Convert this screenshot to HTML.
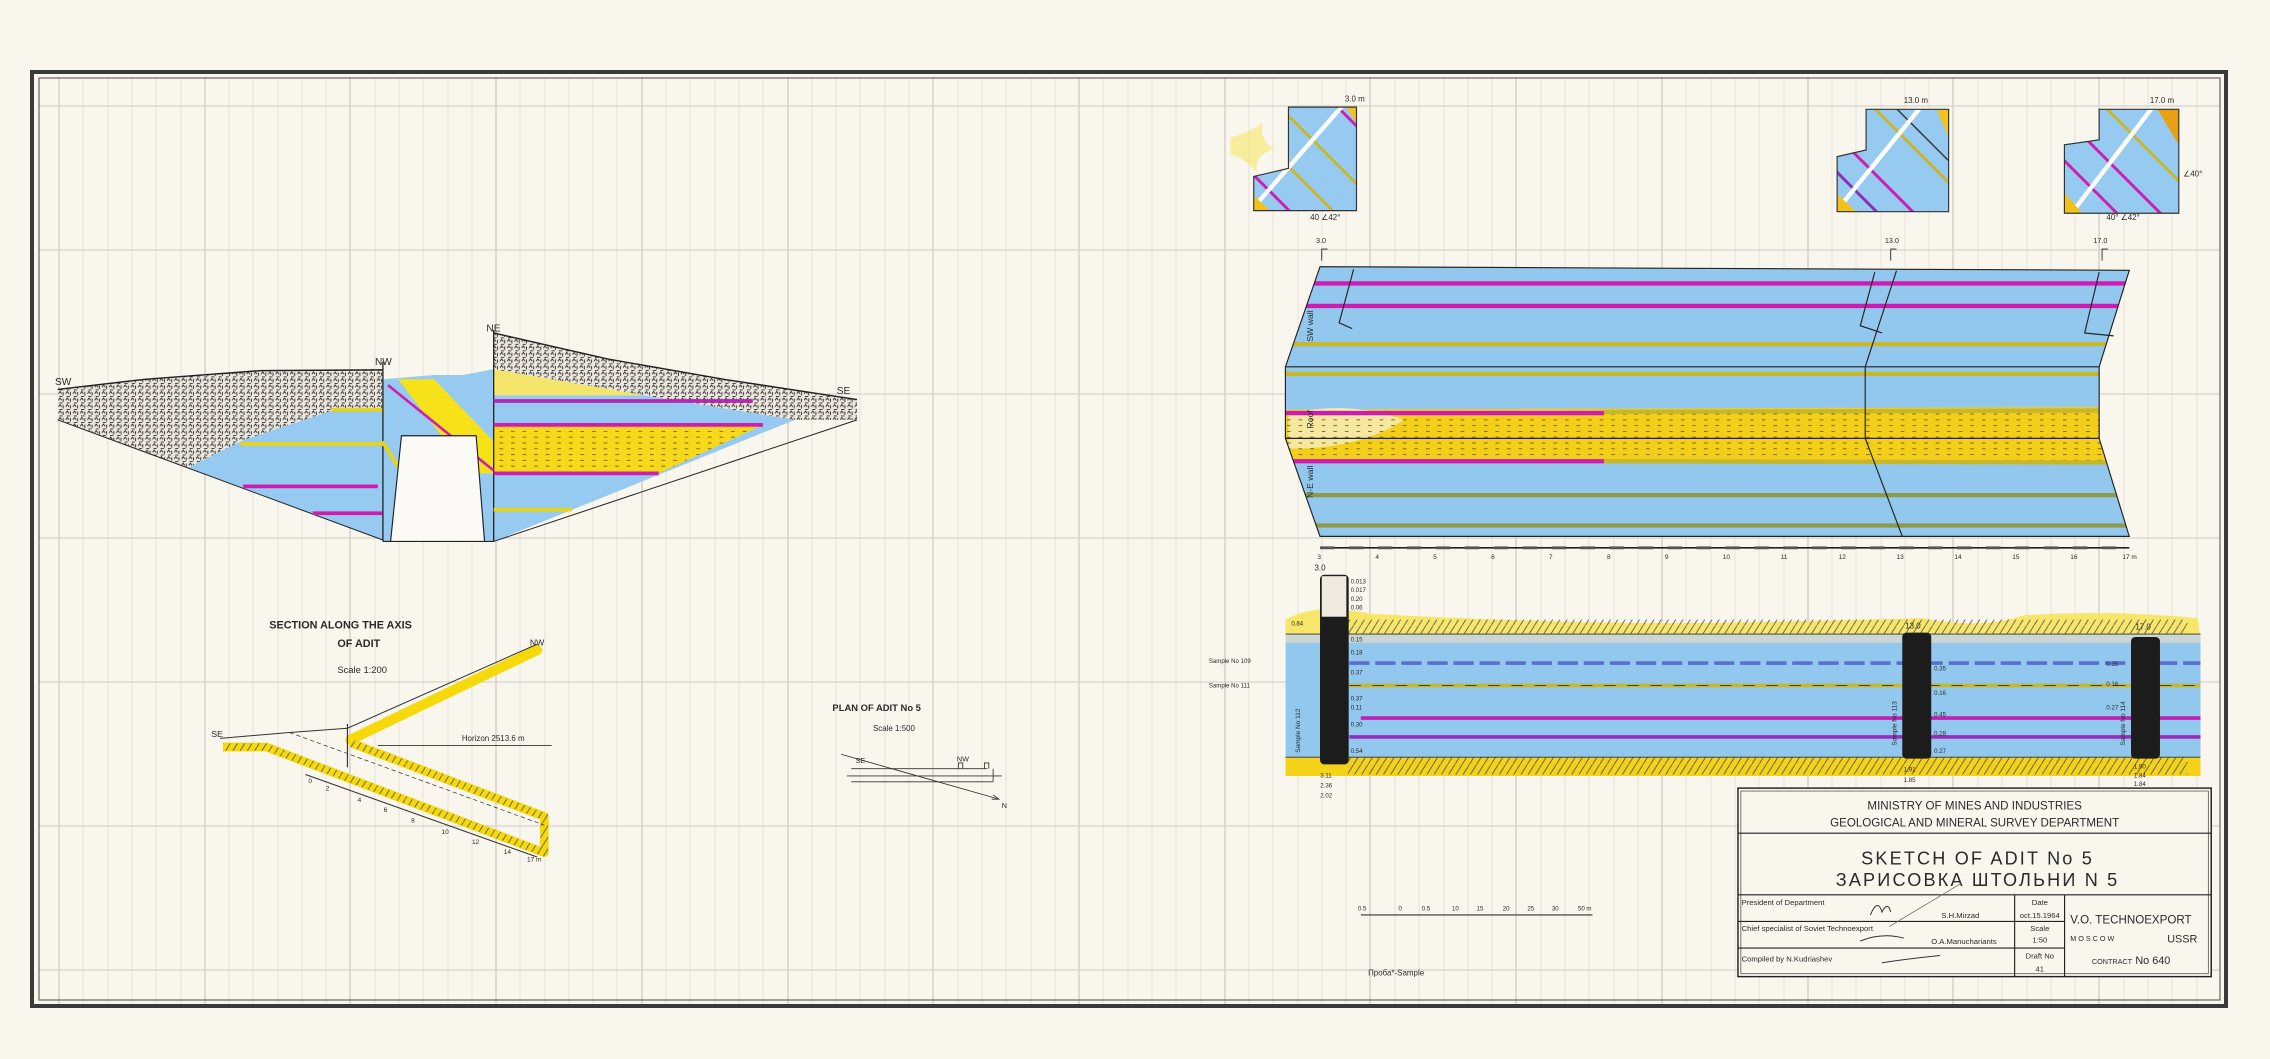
<!DOCTYPE html>
<html><head><meta charset="utf-8"><style>
html,body{margin:0;padding:0;background:#f9f6ee;}
svg{display:block;}
text{font-family:"Liberation Sans",sans-serif;fill:#2a2a2a;}
</style></head><body>
<svg width="2270" height="1059" viewBox="0 0 2270 1059" xmlns="http://www.w3.org/2000/svg">
<defs>
<pattern id="rock" width="5" height="4.5" patternUnits="userSpaceOnUse">
<rect width="5" height="4.5" fill="#ebe7de"/>
<path d="M0.4 2 l1.1 -1.6 l1.1 1.6 M3.6 0.8 v2.4 M1 3.8 h2.2" stroke="#222" stroke-width="0.6" fill="none"/>
</pattern>
<pattern id="hatch" width="5" height="8" patternUnits="userSpaceOnUse">
<path d="M0 8 L5 0" stroke="#555" stroke-width="0.6"/>
</pattern>
<pattern id="dots" width="8" height="4" patternUnits="userSpaceOnUse">
<path d="M1 2 h2.5" stroke="#6b5a00" stroke-width="0.6"/>
</pattern>
<clipPath id="b1"><polygon points="890,74 937,74 937,145.5 866,145.5 866,121.9 890,116.3"/></clipPath>
<clipPath id="b2"><polygon points="1289,75.5 1346,75.5 1346,146.2 1269,146.2 1269,108.2 1289,103.6"/></clipPath>
<clipPath id="b3"><polygon points="1450,75.5 1505,75.5 1505,147.3 1426,147.3 1426,100 1450,96.6"/></clipPath>
<clipPath id="main"><polygon points="911.8,184.2 1470.8,186.7 1450,253.4 1450,302.8 1470.8,370.5 911.8,370.5 887.9,302.8 887.9,253.4"/></clipPath>
</defs>

<g stroke="#e6e2d9" stroke-width="1">
<path d="M83 77V1006M108 77V1006M132 77V1006M156 77V1006M181 77V1006M229 77V1006M253 77V1006M278 77V1006M302 77V1006M326 77V1006M375 77V1006M399 77V1006M423 77V1006M448 77V1006M472 77V1006M520 77V1006M545 77V1006M569 77V1006M593 77V1006M617 77V1006M666 77V1006M690 77V1006M715 77V1006M739 77V1006M763 77V1006M812 77V1006M836 77V1006M860 77V1006M885 77V1006M909 77V1006M958 77V1006M982 77V1006M1006 77V1006M1031 77V1006M1055 77V1006M1103 77V1006M1128 77V1006M1152 77V1006M1176 77V1006M1201 77V1006M1249 77V1006M1273 77V1006M1298 77V1006M1322 77V1006M1346 77V1006M1395 77V1006M1419 77V1006M1444 77V1006M1468 77V1006M1492 77V1006M1541 77V1006M1565 77V1006M1589 77V1006M1614 77V1006M1638 77V1006M1686 77V1006M1711 77V1006M1735 77V1006M1759 77V1006M1784 77V1006M1832 77V1006M1856 77V1006M1881 77V1006M1905 77V1006M1929 77V1006M1978 77V1006M2002 77V1006M2027 77V1006M2051 77V1006M2075 77V1006M2124 77V1006M2148 77V1006M2172 77V1006M2197 77V1006"/>
</g>
<g stroke="#ccc8bf" stroke-width="1.2">
<path d="M59 77V1006M205 77V1006M350 77V1006M496 77V1006M642 77V1006M788 77V1006M933 77V1006M1079 77V1006M1225 77V1006M1370 77V1006M1516 77V1006M1662 77V1006M1808 77V1006M1953 77V1006M2099 77V1006"/>
<path d="M38 106H2220M38 250H2220M38 394H2220M38 538H2220M38 682H2220M38 826H2220M38 970H2220" stroke="#d6d2c9"/>
</g>
<rect x="32" y="72" width="2194" height="934" fill="none" stroke="#3a3a3a" stroke-width="4"/>
<rect x="39" y="78" width="2181" height="922" fill="none" stroke="#666" stroke-width="1.2"/>

<g transform="scale(1.4477)">
<polygon points="130,323 168,304 231,283 264.5,283 264.5,373" fill="#96caf0"/>
<polygon points="264.5,262 300,259 320,259 341,255 341,374 264.5,374" fill="#96caf0"/>
<polygon points="341,273 445,273 549,290 341,374" fill="#96caf0"/>
<polygon points="275,262 300,262 341,305 341,327 325,327" fill="#f7e21a"/>
<polygon points="341,255 445,273 341,273" fill="#f5e56a"/>
<polygon points="341,293.5 527,293.5 455,327 341,327" fill="#f7d81a"/>
<polygon points="341,293.5 527,293.5 455,327 341,327" fill="url(#dots)"/>
<polygon points="39.8,269 100,262 180,256 264.5,255.5 264.5,283 231,283 168,304 130,323 39.8,290" fill="url(#rock)"/>
<polygon points="341,230 420,248 500,262 592,276 592,290 549,290 445,273 341,255" fill="url(#rock)"/>
<polyline points="39.8,269 100,262 180,256 264.5,255.5" fill="none" stroke="#222" stroke-width="1"/>
<polyline points="341,230 420,248 500,262 592,276" fill="none" stroke="#222" stroke-width="1"/>
<line x1="39.8" y1="290" x2="264.5" y2="373" stroke="#222" stroke-width="0.7"/>
<line x1="592" y1="290" x2="341" y2="374" stroke="#222" stroke-width="0.7"/>
<line x1="264.5" y1="250" x2="264.5" y2="374" stroke="#222" stroke-width="0.9"/>
<line x1="341" y1="228" x2="341" y2="374" stroke="#222" stroke-width="0.9"/>
<line x1="264.5" y1="374" x2="341" y2="374" stroke="#222" stroke-width="0.8"/>
<g stroke-width="2.6" fill="none">
<line x1="229" y1="283" x2="264" y2="283" stroke="#e8d41a"/>
<line x1="166" y1="306.6" x2="264" y2="306.6" stroke="#e8d41a"/>
<line x1="168" y1="336" x2="261" y2="336" stroke="#cf1eae"/>
<line x1="216" y1="354.5" x2="264" y2="354.5" stroke="#cf1eae"/>
<line x1="341" y1="277" x2="520" y2="277" stroke="#b727b5"/>
<line x1="341" y1="293.5" x2="527" y2="293.5" stroke="#cf1eae"/>
<line x1="341" y1="327" x2="455" y2="327" stroke="#cf1eae"/>
<line x1="341" y1="352" x2="395" y2="352" stroke="#e8d41a"/>
<line x1="268" y1="266" x2="341" y2="325" stroke="#cf1eae" stroke-width="1.8"/>
<line x1="264" y1="305" x2="280" y2="330" stroke="#e8d41a"/>
</g>
<polygon points="277.3,301 328.9,301 334.7,374 269.8,374" fill="#fbfaf6" stroke="#222" stroke-width="0.8"/>
<g font-size="7">
<text x="38" y="266">SW</text><text x="259" y="252">NW</text><text x="336" y="229">NE</text><text x="578" y="272">SE</text>
</g>

<g font-size="7.5" font-weight="bold">
<text x="186" y="434">SECTION ALONG THE AXIS</text>
<text x="233" y="447">OF ADIT</text>
</g>
<text x="233" y="465" font-size="6.5">Scale   1:200</text>
<polyline points="154,516 184,516 376,589 376,564 242,513" fill="none" stroke="#f5d90a" stroke-width="6" stroke-linejoin="round"/>
<polyline points="242,511 371,449" fill="none" stroke="#f5d90a" stroke-width="7" stroke-linecap="round"/>
<polyline points="154,516 184,516 376,589 376,564 242,513" fill="none" stroke="url(#hatch)" stroke-width="5"/>
<polyline points="152,510 200,506 240,503 371,445" fill="none" stroke="#333" stroke-width="0.7"/>
<line x1="240" y1="500" x2="240" y2="530" stroke="#333" stroke-width="0.8"/>
<line x1="261" y1="515" x2="381" y2="515" stroke="#333" stroke-width="0.6"/>
<line x1="200" y1="506" x2="376" y2="570" stroke="#333" stroke-width="0.5" stroke-dasharray="3,2"/>
<line x1="211" y1="535" x2="371" y2="592" stroke="#333" stroke-width="0.7"/>
<text x="319" y="512" font-size="5.5">Horizon  2513.6 m</text>
<text x="366" y="446" font-size="6">NW</text>
<text x="146" y="509" font-size="6">SE</text>
<g font-size="4.5"><text x="213" y="541">0</text><text x="225" y="546">2</text><text x="247" y="554">4</text><text x="265" y="561">6</text><text x="284" y="568">8</text><text x="305" y="576">10</text><text x="326" y="583">12</text><text x="348" y="590">14</text><text x="364" y="595">17 m</text></g>

<text x="575" y="491" font-size="6.5" font-weight="bold">PLAN OF ADIT  No 5</text>
<text x="603" y="505" font-size="5.5">Scale 1:500</text>
<g stroke="#333" stroke-width="0.6" fill="none">
<path d="M588 531H682M585 536H692M588 540H686M662 531v-4h3v4M680 531v-4h3v4M686 531v9"/>
<line x1="581" y1="521" x2="690" y2="552"/>
<path d="M686 549 l4 3 l-5 0"/>
</g>
<text x="591" y="527" font-size="5">SE</text><text x="661" y="526" font-size="5">NW</text><text x="692" y="558" font-size="5">N</text>

<g clip-path="url(#b1)">
<rect x="860" y="70" width="90" height="80" fill="#96caf0"/>
<g stroke-width="2">
<line x1="870" y1="60" x2="960" y2="150" stroke="#c9b62a"/>
<line x1="860" y1="85" x2="935" y2="160" stroke="#c9b62a"/>
<line x1="910" y1="60" x2="990" y2="140" stroke="#cf1eae"/>
<line x1="850" y1="105" x2="905" y2="160" stroke="#cf1eae"/>
<line x1="930" y1="70" x2="860" y2="150" stroke="#fff" stroke-width="3"/>
</g>
<polygon points="930,74 937,74 937,85" fill="#f1c21a"/><polygon points="866,135 866,146 878,146" fill="#f1c21a"/>
</g>
<polygon points="890,74 937,74 937,145.5 866,145.5 866,121.9 890,116.3" fill="none" stroke="#333" stroke-width="0.8"/>
<g clip-path="url(#b2)">
<rect x="1260" y="70" width="90" height="80" fill="#96caf0"/>
<g stroke-width="2">
<line x1="1280" y1="60" x2="1370" y2="150" stroke="#c9b62a"/>
<line x1="1300" y1="65" x2="1380" y2="145" stroke="#333" stroke-width="1"/>
<line x1="1265" y1="90" x2="1335" y2="160" stroke="#cf1eae"/>
<line x1="1255" y1="105" x2="1315" y2="165" stroke="#8a2fb5"/>
<line x1="1330" y1="70" x2="1265" y2="150" stroke="#fff" stroke-width="3"/>
</g>
<polygon points="1338,76 1346,76 1346,95" fill="#f1c21a"/><polygon points="1269,134 1269,146 1282,146" fill="#f1c21a"/>
</g>
<polygon points="1289,75.5 1346,75.5 1346,146.2 1269,146.2 1269,108.2 1289,103.6" fill="none" stroke="#333" stroke-width="0.8"/>
<g clip-path="url(#b3)">
<rect x="1420" y="70" width="90" height="85" fill="#96caf0"/>
<g stroke-width="2">
<line x1="1440" y1="60" x2="1530" y2="150" stroke="#c9b62a"/>
<line x1="1425" y1="80" x2="1510" y2="165" stroke="#cf1eae"/>
<line x1="1415" y1="100" x2="1480" y2="165" stroke="#cf1eae"/>
<line x1="1490" y1="70" x2="1425" y2="155" stroke="#fff" stroke-width="3"/>
</g>
<polygon points="1490,75 1505,75 1505,100" fill="#e8a012"/><polygon points="1426,133 1426,147 1438,147" fill="#f1c21a"/>
</g>
<polygon points="1450,75.5 1505,75.5 1505,147.3 1426,147.3 1426,100 1450,96.6" fill="none" stroke="#333" stroke-width="0.8"/>
<path d="M850 95 q12 -3 22 -10 q-2 12 8 18 q-14 4 -12 16 q-8 -10 -18 -12z" fill="#f6e03a" opacity="0.45"/>
<g font-size="5.5"><text x="929" y="70">3.0 m</text><text x="1315" y="71">13.0 m</text><text x="1485" y="71">17.0 m</text>
<text x="905" y="152">40 ∠42°</text><text x="1455" y="152">40° ∠42°</text><text x="1508" y="122">∠40°</text></g>

<g clip-path="url(#main)">
<rect x="880" y="180" width="600" height="200" fill="#93c8ee"/>
<path d="M880 283 L1480 281 L1480 320 L880 320Z" fill="#f4cf1a"/>
<path d="M890 286 q40 -10 80 4 q-30 20 -80 20z" fill="#f6e8a0"/>
<rect x="880" y="283" width="600" height="37" fill="url(#dots)"/>
<g stroke-width="3">
<line x1="880" y1="195.8" x2="1480" y2="195.8" stroke="#d01bb3"/>
<line x1="880" y1="211.3" x2="1480" y2="211.3" stroke="#d01bb3"/>
<line x1="880" y1="237.7" x2="1480" y2="237.7" stroke="#c7b72a"/>
<line x1="880" y1="258.2" x2="1480" y2="258.2" stroke="#c7b72a"/>
<line x1="880" y1="285.3" x2="1108" y2="285.3" stroke="#d01bb3"/>
<line x1="1108" y1="284.5" x2="1480" y2="283.5" stroke="#c7b72a"/>
<line x1="880" y1="318.6" x2="1108" y2="318.6" stroke="#d01bb3"/>
<line x1="1108" y1="318.6" x2="1480" y2="319.5" stroke="#c7b72a"/>
<line x1="880" y1="342" x2="1480" y2="342" stroke="#8c9a4a"/>
<line x1="880" y1="363" x2="1480" y2="363" stroke="#8c9a4a"/>
</g>
</g>
<g fill="none" stroke="#222" stroke-width="0.8">
<polygon points="911.8,184.2 1470.8,186.7 1450,253.4 1450,302.8 1470.8,370.5 911.8,370.5 887.9,302.8 887.9,253.4"/>
<path d="M887.9 253.4H1450M887.9 302.8H1450M1310 187L1288.4 253.4V302.8L1314 370.5"/>
<path d="M935 186 L925 223 L934 227 M1295 188 L1285 225 L1300 230 M1450 188 L1440 230 L1460 232"/>
</g>
<g font-size="6" fill="#222">
<text transform="translate(907,236) rotate(-90)">SW wall</text>
<text transform="translate(907,296) rotate(-90)">Roof</text>
<text transform="translate(907,344) rotate(-90)">N-E wall</text>
</g>
<g font-size="5"><text x="909" y="168">3.0</text><text x="1302" y="168">13.0</text><text x="1446" y="168">17.0</text></g>
<path d="M913 180v-8h4M1306 180v-8h4M1452 180v-8h4" stroke="#222" stroke-width="0.6" fill="none"/>
<line x1="911.8" y1="378.4" x2="1470.8" y2="378.4" stroke="#222" stroke-width="1.2"/>
<line x1="911.8" y1="378.4" x2="1470.8" y2="378.4" stroke="#555" stroke-width="2" stroke-dasharray="10,10"/>
<g font-size="4.5"><text x="910" y="386">3</text><text x="950" y="386">4</text><text x="990" y="386">5</text><text x="1030" y="386">6</text><text x="1070" y="386">7</text><text x="1110" y="386">8</text><text x="1150" y="386">9</text><text x="1190" y="386">10</text><text x="1230" y="386">11</text><text x="1270" y="386">12</text><text x="1310" y="386">13</text><text x="1350" y="386">14</text><text x="1390" y="386">15</text><text x="1430" y="386">16</text><text x="1466" y="386">17 m</text></g>

<path d="M888 440 L888 428 q20 -12 60 -4 q150 8 250 6 q100 -2 130 -3 q40 8 70 -2 q60 -4 120 2 L1520 440 Z" fill="#f7e66a"/>
<rect x="888" y="438.3" width="632" height="85" fill="#93c8ee"/>
<rect x="888" y="438" width="632" height="6" fill="#f2e0c0" opacity="0.6"/>
<rect x="888" y="523" width="632" height="13" fill="#f4d21a"/>
<rect x="931" y="523" width="580" height="12" fill="url(#hatch)"/>
<rect x="931" y="428" width="580" height="10" fill="url(#hatch)"/>
<g stroke-width="2.5">
<line x1="932" y1="458" x2="1520" y2="458" stroke="#5a6fd0" stroke-dasharray="14,4"/>
<line x1="932" y1="473.5" x2="1520" y2="473.5" stroke="#c7b72a"/>
<line x1="932" y1="473.5" x2="1520" y2="473.5" stroke="#333" stroke-width="0.6" stroke-dasharray="8,8"/>
<line x1="940" y1="496" x2="1520" y2="496" stroke="#c31fb5"/>
<line x1="932" y1="509" x2="1520" y2="509" stroke="#9b2bc0"/>
</g>
<line x1="888" y1="438" x2="1520" y2="438" stroke="#333" stroke-width="0.6"/>
<line x1="888" y1="523" x2="1520" y2="523" stroke="#333" stroke-width="0.6"/>
<rect x="911.8" y="397" width="19.8" height="131" rx="3" fill="#1c1c1c"/>
<rect x="913" y="398" width="17" height="28" fill="#eeeae0"/>
<rect x="1314" y="437" width="20" height="87" rx="3" fill="#1c1c1c"/>
<rect x="1472" y="440" width="20" height="84" rx="3" fill="#1c1c1c"/>
<g font-size="4.2">
<text x="933" y="403">0.013</text><text x="933" y="409">0.017</text><text x="933" y="415">0.20</text><text x="933" y="421">0.06</text>
<text x="892" y="432">0.84</text><text x="933" y="443">0.15</text><text x="933" y="452">0.18</text><text x="933" y="466">0.37</text><text x="933" y="484">0.37</text><text x="933" y="490">0.11</text><text x="933" y="502">0.30</text><text x="933" y="520">0.54</text>
<text x="912" y="537">3.11</text><text x="912" y="544">2.36</text><text x="912" y="551">2.02</text>
<text x="1336" y="463">0.35</text><text x="1336" y="480">0.16</text><text x="1336" y="495">0.45</text><text x="1336" y="508">0.28</text><text x="1336" y="520">0.27</text>
<text x="1315" y="533">1.91</text><text x="1315" y="540">1.85</text>
<text x="1474" y="531">1.90</text><text x="1474" y="537">1.84</text><text x="1474" y="543">1.84</text>
<text x="1455" y="460">0.35</text><text x="1455" y="474">0.16</text><text x="1455" y="490">0.27</text>
<text x="835" y="458">Sample No 109</text><text x="835" y="475">Sample No 111</text>
</g>
<g font-size="5.5"><text x="908" y="394">3.0</text><text x="1316" y="434">13.0</text><text x="1475" y="435">17.0</text></g>
<text transform="translate(898,520) rotate(-90)" font-size="4.5">Sample No 112</text>
<text transform="translate(1310,515) rotate(-90)" font-size="4.5">Sample No 113</text>
<text transform="translate(1468,515) rotate(-90)" font-size="4.5">Sample No 114</text>

<line x1="940" y1="632" x2="1100" y2="632" stroke="#333" stroke-width="0.8"/>
<g font-size="4.2"><text x="938" y="629">0.5</text><text x="966" y="629">0</text><text x="982" y="629">0.5</text><text x="1003" y="629">10</text><text x="1020" y="629">15</text><text x="1038" y="629">20</text><text x="1055" y="629">25</text><text x="1072" y="629">30</text><text x="1090" y="629">50 m</text></g>
<text x="945" y="674" font-size="5.5">Проба*-Sample</text>

<rect x="1200.5" y="544.4" width="326.9" height="130.2" fill="#f9f6ee" stroke="#222" stroke-width="1"/>
<rect x="1202.5" y="546.4" width="322.9" height="126.2" fill="none" stroke="#444" stroke-width="0.5"/>
<g stroke="#222" stroke-width="0.8">
<line x1="1200.5" y1="575.5" x2="1527.4" y2="575.5"/>
<line x1="1200.5" y1="618.1" x2="1527.4" y2="618.1"/>
<line x1="1200.5" y1="636.5" x2="1426.1" y2="636.5"/>
<line x1="1200.5" y1="654.9" x2="1426.1" y2="654.9"/>
<line x1="1391.6" y1="618.1" x2="1391.6" y2="674.6"/>
<line x1="1426.1" y1="618.1" x2="1426.1" y2="674.6"/>
</g>
<g text-anchor="middle">
<text x="1364" y="559" font-size="8">MINISTRY OF MINES AND INDUSTRIES</text>
<text x="1364" y="571" font-size="8">GEOLOGICAL AND MINERAL SURVEY DEPARTMENT</text>
<text x="1366" y="597" font-size="12.5" letter-spacing="1.5">SKETCH  OF  ADIT  No 5</text>
<text x="1366" y="612" font-size="12.5" letter-spacing="1.5">ЗАРИСОВКА  ШТОЛЬНИ  N 5</text>
</g>
<g font-size="5.3">
<text x="1203" y="625">President of Department</text>
<text x="1341" y="634">S.H.Mirzad</text>
<text x="1203" y="643">Chief specialist of Soviet Technoexport</text>
<text x="1334" y="652">O.A.Manuchariants</text>
<text x="1203" y="664">Compiled by  N.Kudriashev</text>
<g text-anchor="middle"><text x="1409" y="625">Date</text><text x="1409" y="634">oct.15.1964</text><text x="1409" y="643">Scale</text><text x="1409" y="651">1:50</text><text x="1409" y="662">Draft No</text><text x="1409" y="671">41</text></g>
</g>
<text x="1430" y="638" font-size="8">V.O.  TECHNOEXPORT</text>
<text x="1430" y="650" font-size="5">M O S C O W</text><text x="1497" y="651" font-size="7.5">USSR</text>
<text x="1445" y="666" font-size="5">CONTRACT</text><text x="1475" y="666" font-size="7.5">No  640</text>
<path d="M1292 632 q5 -12 8 -2 q4 -8 6 0 M1285 650 q15 -6 30 -2 M1300 665 q20 -3 40 -5" stroke="#333" stroke-width="0.7" fill="none"/>
<line x1="1305" y1="640" x2="1355" y2="610" stroke="#666" stroke-width="0.5"/>
</g>
</svg>
</body></html>
